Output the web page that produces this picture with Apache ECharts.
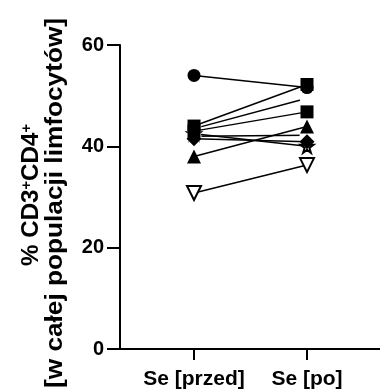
<!DOCTYPE html>
<html><head><meta charset="utf-8">
<script src="https://cdn.jsdelivr.net/npm/echarts@6/dist/echarts.min.js"></script>
<style>html,body{margin:0;padding:0;background:#fff}#c{width:380px;height:390px}</style>
</head><body><div id="c"></div>
<script>
const categories = ['Se [przed]', 'Se [po]'];
const before = [54.0, 44.0, 43.5, 43.0, 38.0, 41.5, 42.0, 42.5, 30.8];
const after  = [51.6, 52.2, 49.5, 46.8, 43.9, 40.9, 42.2, 40.0, 36.3];
const symbols = ['circle', 'rect', 'emptyCircle', 'rect', 'triangle', 'diamond', 'emptyCircle',
  'path://M50,0 L61,35 L98,35 L68,57 L79,91 L50,70 L21,91 L32,57 L2,35 L39,35 Z', 'triangle'];
const filled = [true, true, false, true, true, true, false, false, false];
const rotations = [0, 0, 0, 0, 0, 0, 0, 0, 180];
const zOrder = [6, 7, 3, 8, 6, 5, 4, 2, 6];
const yTicks = [0, 20, 40, 60];
const font = '"Liberation Sans", Arial, sans-serif';

const series = before.map((b, i) => ({
  type: 'line',
  data: [[1, b], [2, after[i]]],
  symbol: symbols[i],
  symbolSize: symbols[i] === 'diamond' ? 15 : (symbols[i] === 'triangle' ? 14 : 13),
  symbolRotate: rotations[i],
  lineStyle: { color: '#000', width: 1.5 },
  itemStyle: { color: filled[i] ? '#000' : '#fff', borderColor: '#000', borderWidth: filled[i] ? 0 : 2 },
  emphasis: { disabled: true },
  z: zOrder[i]
}));

const chart = echarts.init(document.getElementById('c'), null, { renderer: 'canvas' });
chart.setOption({
  animation: false,
  grid: { left: 120, right: 0, top: 45, bottom: 41, containLabel: false },
  xAxis: {
    type: 'value', min: 0.345, max: 2.646,
    splitLine: { show: false },
    axisLine: { onZero: false, lineStyle: { color: '#000', width: 2 } },
    axisTick: { customValues: [1, 2], length: 11, lineStyle: { color: '#000', width: 2 } },
    axisLabel: { customValues: [1, 2], formatter: v => categories[Math.round(v) - 1] || '',
      color: '#000', fontWeight: 'bold', fontSize: 21, fontFamily: font, margin: 20 }
  },
  yAxis: {
    type: 'value', min: 0, max: 60, interval: 20,
    splitLine: { show: false },
    axisLine: { show: true, lineStyle: { color: '#000', width: 2 } },
    axisTick: { show: true, length: 13, lineStyle: { color: '#000', width: 2 } },
    axisLabel: { color: '#000', fontWeight: 'bold', fontSize: 20, fontFamily: font, margin: 16,
      customValues: yTicks }
  },
  graphic: [
    { type: 'text', x: 32, y: 195, rotation: Math.PI / 2, scaleX: 1.05,
      style: { text: '% CD3{s|+}CD4{s|+}', rich: { s: { fontSize: 14, fontWeight: 'bold', fontFamily: font, verticalAlign: 'top', padding: [0,0,10,0] } },
        fontSize: 23, fontWeight: 'bold', fontFamily: font, fill: '#000', align: 'center', verticalAlign: 'middle' } },
    { type: 'text', x: 56, y: 203, rotation: Math.PI / 2, scaleX: 1.14,
      style: { text: '[w całej populacji limfocytów]', fontSize: 23, fontWeight: 'bold', fontFamily: font,
        fill: '#000', align: 'center', verticalAlign: 'middle' } }
  ],
  series
});
</script></body></html>
